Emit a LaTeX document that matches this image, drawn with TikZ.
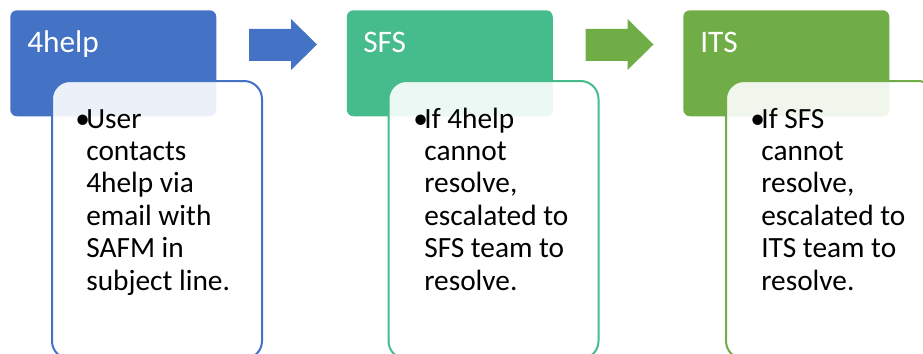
\documentclass[tikz,border=0pt]{standalone}
\usepackage{fontspec}
\setmainfont{Carlito}
\usetikzlibrary{positioning}
\definecolor{helpblue}{RGB}{68,114,196}
\definecolor{sfsteal}{RGB}{70,187,140}
\definecolor{itsgreen}{RGB}{112,173,71}
\tikzset{
  header/.style={rectangle,rounded corners=5pt,inner sep=0pt,
    minimum width=154.5pt,minimum height=79.5pt,anchor=north west},
  detail/.style={rectangle,rounded corners=13.5pt,line width=1.5pt,
    fill=white,fill opacity=0.9,inner sep=0pt,
    minimum width=157.5pt,minimum height=208.5pt,anchor=north west},
  headtext/.style={text=white,inner sep=0pt,anchor=base west,
    font=\fontsize{23.5pt}{28pt}\selectfont},
  bodytext/.style={inner sep=0pt,anchor=base west,
    font=\fontsize{22pt}{24.3pt}\selectfont}
}
\newcommand{\bulletlines}[1]{\parbox[t]{150pt}{\hangindent=8.3pt\hangafter=1
  \noindent\makebox[8.3pt][l]{\textbullet}#1}}

\begin{document}
\begin{tikzpicture}[x=0.75pt,y=-0.75pt]
  % Page frame
  \clip (0,0) rectangle (923,353);
  %
  % Stage 1: 4help
  \node[header,fill=helpblue] (helphead) at (10,10) {};
  \node[headtext] (helptitle) at (27,53) {4help};
  \node[detail,draw=helpblue] (helpbox) at (51,80) {};
  \node[bodytext] (helptext) at (75,128) {\bulletlines{User\\contacts\\4help via\\email with\\SAFM in\\subject line.}};
  %
  % Arrow 1
  \fill[helpblue] (249,29) -- (291,29) -- (291,19) -- (317,44.5)
    -- (291,70) -- (291,61) -- (249,61) -- cycle;
  %
  % Stage 2: SFS
  \node[header,fill=sfsteal] (sfshead) at (346.5,10) {};
  \node[headtext] (sfstitle) at (363,53) {SFS};
  \node[detail,draw=sfsteal] (sfsbox) at (387.5,80) {};
  \node[bodytext] (sfstext) at (413,128) {\bulletlines{If 4help\\cannot\\resolve,\\escalated to\\SFS team to\\resolve.}};
  %
  % Arrow 2
  \fill[itsgreen] (585.5,29) -- (627.5,29) -- (627.5,19) -- (653.5,44.5)
    -- (627.5,70) -- (627.5,61) -- (585.5,61) -- cycle;
  %
  % Stage 3: ITS
  \node[header,fill=itsgreen] (itshead) at (683,10) {};
  \node[headtext] (itstitle) at (700,53) {ITS};
  \node[detail,draw=itsgreen] (itsbox) at (725,80) {};
  \node[bodytext] (itstext) at (750,128) {\bulletlines{If SFS\\cannot\\resolve,\\escalated to\\ITS team to\\resolve.}};
  %
\end{tikzpicture}
\end{document}
